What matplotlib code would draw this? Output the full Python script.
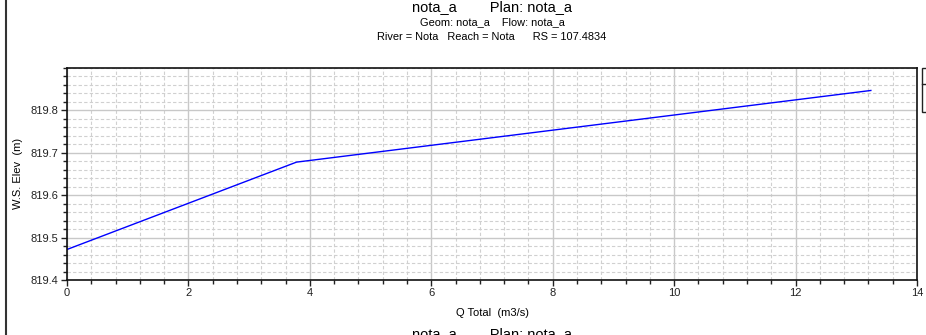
import matplotlib
matplotlib.use("Agg")
import matplotlib.pyplot as plt
from matplotlib.ticker import MultipleLocator, FixedLocator
from matplotlib.patches import Rectangle
from matplotlib.lines import Line2D

plt.rcParams['font.family'] = ['Liberation Sans', 'DejaVu Sans']

q_total = [0.0, 3.78, 13.24]
ws_elev = [819.472, 819.678, 819.847]

y_major = [819.4, 819.5, 819.6, 819.7, 819.8]
title1 = "nota_a        Plan: nota_a"
title2 = "Geom: nota_a    Flow: nota_a"
title3 = "River = Nota   Reach = Nota      RS = 107.4834"
xlabel = "Q Total  (m3/s)"
ylabel = "W.S. Elev  (m)"

W, H = 926, 335
fig = plt.figure(figsize=(W / 100, H / 100), dpi=100)
ax = fig.add_axes([67 / W, 1 - 280 / H, (917 - 67) / W, (280 - 68) / H])

ax.plot(q_total, ws_elev, color='#0000ff', lw=1.0)
ax.set_xlim(0, 14)
ax.set_ylim(819.4, 819.9)
ax.xaxis.set_major_locator(MultipleLocator(2))
ax.xaxis.set_minor_locator(MultipleLocator(0.4))
ax.yaxis.set_major_locator(FixedLocator(y_major))
ax.yaxis.set_minor_locator(MultipleLocator(0.02))
ax.yaxis.set_major_formatter(matplotlib.ticker.FormatStrFormatter('%.1f'))
ax.grid(which='major', color='#c8c8c8', lw=1.0, ls='-')
ax.grid(which='minor', color='#d0d0d0', lw=0.8, ls=(0, (3, 2)))
ax.set_axisbelow(True)
ax.tick_params(which='major', length=4, width=1, labelsize=8, colors='#222222', pad=2)
ax.tick_params(which='minor', length=3, width=1, colors='#222222')
for s in ax.spines.values():
    s.set_linewidth(1.2)
    s.set_color('#111111')

cx = 492 / W
fig.text(cx, 1 - 7 / H, title1, ha='center', va='center', fontsize=10.5)
fig.text(cx, 1 - 22.5 / H, title2, ha='center', va='center', fontsize=7.9)
fig.text(cx, 1 - 37 / H, title3, ha='center', va='center', fontsize=7.9)
fig.text(cx, 1 - 313.5 / H, xlabel, ha='center', va='center', fontsize=8)
fig.text(18 / W, 1 - 173 / H, ylabel, ha='center', va='center', fontsize=8, rotation=90)
fig.text(cx, 1 - 327.5 / H, title1, ha='center', va='top', fontsize=10.5)

# figure left border
fig.add_artist(Line2D([5.5 / W, 5.5 / W], [0, 1], color='#333333', lw=1.5, transform=fig.transFigure))
# partially visible legend box at right edge
fig.add_artist(Rectangle((922 / W, 1 - 112 / H), 20 / W, 44 / H, transform=fig.transFigure,
                         facecolor='white', edgecolor='#222222', lw=1.0, clip_on=False))
fig.add_artist(Line2D([922 / W, 1], [1 - 84 / H, 1 - 84 / H], color='#222222', lw=1.0, transform=fig.transFigure))

fig.savefig("out.png", dpi=100)
